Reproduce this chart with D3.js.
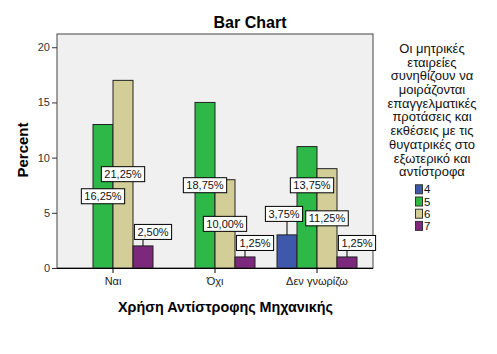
<!DOCTYPE html>
<html><head><meta charset="utf-8">
<script src="https://cdn.jsdelivr.net/npm/d3@7"></script>
<style>body{margin:0;background:#fff}svg{display:block}text{font-family:Arial,"Liberation Sans",sans-serif}</style>
</head><body><svg id="c" width="497" height="354"></svg>
<script>
// ---- data ----
const categories = ["Ναι", "Όχι", "Δεν γνωρίζω"];
const seriesNames = ["4", "5", "6", "7"];
const seriesColors = ["#3E58AC", "#2EB848", "#D3CE97", "#7C287D"];
// bar heights per category, in series order (null = no bar)
const valuesNai = [null, 13, 17, 2];
const valuesOxi = [null, 15, 8, 1];
const valuesDen = [3, 11, 9, 1];
const labelsNai = [null, "16,25%", "21,25%", "2,50%"];
const labelsOxi = [null, "18,75%", "10,00%", "1,25%"];
const labelsDen = ["3,75%", "13,75%", "11,25%", "1,25%"];
const yTicks = [0, 5, 10, 15, 20];
const titleText = "Bar Chart";
const yTitle = "Percent";
const xTitle = "Χρήση Αντίστροφης Μηχανικής";
const legendTitle = ["Οι μητρικές", "εταιρείες", "συνηθίζουν να", "μοιράζονται",
  "επαγγελματικές", "προτάσεις και", "εκθέσεις με τις", "θυγατρικές στο",
  "εξωτερικό και", "αντίστροφα"];

// ---- layout ----
const values = [valuesNai, valuesOxi, valuesDen];
const labels = [labelsNai, labelsOxi, labelsDen];
// label nudges [dx, dy] in px relative to default placement (layout only)
const nudge = {"2|1": [5, -22]};

const svg = d3.select("#c");
const P = {l: 57, r: 373, t: 34, b: 268};

svg.append("rect").attr("x", P.l).attr("y", P.t).attr("width", P.r - P.l).attr("height", P.b - P.t)
  .attr("fill", "#F0F0F0").attr("stroke", "#444").attr("stroke-width", 1);

const y = d3.scaleLinear().domain([0, 21.2]).range([P.b, P.t]);
const x0 = d3.scaleBand().domain(categories).range([62, 368]).padding(0);
const x1 = d3.scaleBand().domain(seriesNames).range([-40, 40]).padding(0);

// title
svg.append("text").attr("x", 250).attr("y", 28).attr("text-anchor", "middle")
  .attr("font-size", 16).attr("font-weight", "bold").text(titleText);

// y axis
const ya = svg.append("g").attr("transform", `translate(${P.l},0)`)
  .call(d3.axisLeft(y).tickValues(yTicks).tickSize(5).tickPadding(2).tickFormat(d3.format("d")));
ya.select(".domain").remove();
ya.selectAll("line").attr("stroke", "#333");
ya.selectAll("text").attr("font-size", 11).attr("fill", "#333").attr("font-family", "Arial, 'Liberation Sans', sans-serif");

// bars
categories.forEach((c, ci) => {
  const g = svg.append("g").attr("transform", `translate(${x0(c) + x0.bandwidth() / 2},0)`);
  g.selectAll("rect").data(values[ci].map((v, si) => ({v, si})).filter(d => d.v != null))
    .join("rect")
    .attr("x", d => x1(seriesNames[d.si]))
    .attr("y", d => y(d.v))
    .attr("width", x1.bandwidth())
    .attr("height", d => y(0) - y(d.v))
    .attr("fill", d => seriesColors[d.si])
    .attr("stroke", "#222").attr("stroke-width", 1);
});

// x axis
const xa = svg.append("g").attr("transform", `translate(0,${P.b})`)
  .call(d3.axisBottom(x0).tickSize(5).tickPadding(4));
xa.select(".domain").attr("stroke", "#000").attr("d", `M${P.l},0.5H${P.r}`);
xa.selectAll("line").attr("stroke", "#000");
xa.selectAll("text").attr("font-size", 11).attr("fill", "#222").attr("font-family", "Arial, 'Liberation Sans', sans-serif");

// value labels
const lg = svg.append("g");
categories.forEach((c, ci) => {
  values[ci].forEach((v, si) => {
    if (v == null) return;
    const cx = x0(c) + x0.bandwidth() / 2 + x1(seriesNames[si]) + x1.bandwidth() / 2;
    const top = y(v), h = y(0) - top;
    let bx = cx, by = top + h / 2;
    if (h < 40) { bx = cx + 10; by = top - 14; }
    if (si === 0 && h < 40) { bx = cx - 3; by = top - 21; }
    const n = nudge[ci + "|" + si];
    if (n) { bx += n[0]; by += n[1]; }
    const t = lg.append("text").attr("x", bx).attr("y", by).attr("dy", "0.36em")
      .attr("text-anchor", "middle").attr("font-size", 11).attr("fill", "#111").text(labels[ci][si]);
    const w = t.node().getComputedTextLength() + 6, bh = 15;
    if (by + bh / 2 < top) {
      lg.insert("line", "text").attr("x1", cx).attr("x2", cx).attr("y1", top).attr("y2", by + bh / 2)
        .attr("stroke", "#000");
    }
    lg.insert("rect", "text").attr("x", bx - w / 2).attr("y", by - bh / 2).attr("width", w).attr("height", bh)
      .attr("fill", "#fff").attr("stroke", "#000").attr("stroke-width", 1);
    t.raise();
  });
});

// axis titles
svg.append("text").attr("transform", "translate(28,150) rotate(-90)").attr("text-anchor", "middle")
  .attr("font-size", 15).attr("font-weight", "bold").text(yTitle);
const xt = svg.append("text").attr("x", 225.5).attr("y", 312).attr("text-anchor", "middle")
  .attr("font-family", "'Open Sans', sans-serif").attr("font-size", 14).attr("font-weight", "bold").text(xTitle);
const xl = xt.node().getComputedTextLength();
xt.attr("font-size", 14 * 215 / xl);

// legend
const leg = svg.append("g");
const probe = leg.append("text").attr("font-size", 12).text(legendTitle[4]);
const legFs = Math.min(13, 12 * 100 / probe.node().getComputedTextLength());
probe.remove();
legendTitle.forEach((s, i) => {
  leg.append("text").attr("x", 432).attr("y", 48.3 + i * 13.7).attr("dy", "0.36em")
    .attr("text-anchor", "middle").attr("font-size", legFs).attr("fill", "#111").text(s);
});
seriesNames.forEach((s, i) => {
  const cy = 189.3 + i * 12.2;
  leg.append("rect").attr("x", 415.5).attr("y", cy - 4.5).attr("width", 7).attr("height", 9)
    .attr("fill", seriesColors[i]).attr("stroke", "#333");
  leg.append("text").attr("x", 424).attr("y", cy).attr("dy", "0.36em").attr("font-size", 11.5).attr("fill", "#111").text(s);
});
</script></body></html>
